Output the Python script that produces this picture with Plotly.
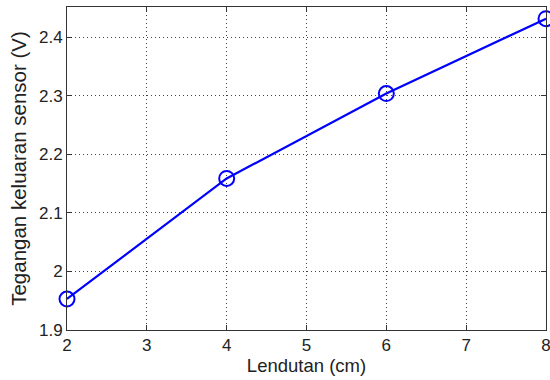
import plotly.graph_objects as go

lendutan = [2, 4, 6, 8]
tegangan = [1.953, 2.159, 2.304, 2.432]

x_ticks = [2, 3, 4, 5, 6, 7, 8]
y_ticks = [1.9, 2.0, 2.1, 2.2, 2.3, 2.4]
y_tick_labels = ["1.9", "2", "2.1", "2.2", "2.3", "2.4"]

fig = go.Figure()
fig.add_trace(go.Scatter(
    x=lendutan, y=tegangan, mode="lines+markers",
    line=dict(color="#0000ff", width=2.2),
    marker=dict(symbol="circle-open", size=15, color="#0000ff", line=dict(width=2)),
    cliponaxis=False,
))

axis_common = dict(
    showline=True, linecolor="#333333", linewidth=1, mirror="ticks",
    ticks="inside", ticklen=5, tickcolor="#333333",
    showgrid=True, gridcolor="#444444", griddash="1px,3px", gridwidth=1,
    zeroline=False, ticklabeloverflow="allow", automargin=False,
    tickfont=dict(family="Liberation Sans, Arial, sans-serif", size=17, color="#222222"),
)

fig.update_layout(
    template="none",
    width=550, height=380,
    margin=dict(l=67, r=4, t=7, b=50),
    paper_bgcolor="white", plot_bgcolor="white",
    showlegend=False,
    font=dict(family="Liberation Sans, Arial, sans-serif", size=16, color="#222222"),
    xaxis=dict(
        range=[2, 8], tickvals=x_ticks,
        title=dict(text="Lendutan (cm)", standoff=4,
                   font=dict(size=18.5)),
        **axis_common,
    ),
    yaxis=dict(
        range=[1.9, 2.452], tickvals=y_ticks, ticktext=y_tick_labels,
        title=dict(text="Tegangan keluaran sensor (V)", standoff=6,
                   font=dict(size=20.5)),
        **axis_common,
    ),
)

fig.write_html(
    "out.html",
    config={"displayModeBar": False},
    post_script="document.body.style.margin='0';document.body.style.overflow='hidden';",
)
